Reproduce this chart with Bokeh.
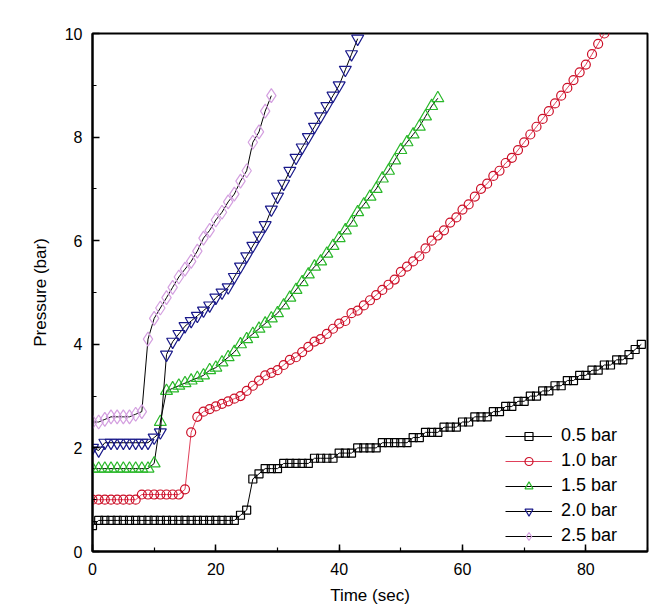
from bokeh.plotting import figure
from bokeh.models import SingleIntervalTicker, Range1d, Legend
from bokeh.embed import file_html
from bokeh.resources import INLINE

# ---- data (time in sec, pressure in bar) ----
t_05 = list(range(0, 90))
p_05 = ([0.5] + [0.6] * 23 + [0.7, 0.8, 1.4, 1.5] + [1.6] * 3 + [1.7] * 5 + [1.8] * 4 +
        [1.9] * 3 + [2.0] * 4 + [2.1] * 5 + [2.2] * 2 + [2.3] * 3 + [2.4] * 3 +
        [2.5] * 2 + [2.6] * 3 + [2.7] * 2 + [2.8] * 2 + [2.9] * 2 + [3.0] * 2 +
        [3.1] * 2 + [3.2] * 2 + [3.3] * 2 + [3.4] * 2 + [3.5] * 2 + [3.6] * 2 +
        [3.7] * 2 + [3.8] * 1 + [3.9, 4.0])

t_10 = list(range(0, 84))
p_10 = ([1.0] * 8 + [1.1] * 7 +
        [1.2, 2.3, 2.6, 2.7, 2.75, 2.8, 2.85, 2.9, 2.95, 3.0, 3.1, 3.2, 3.3, 3.4, 3.45,
         3.5, 3.6, 3.7, 3.75, 3.85, 3.95, 4.05, 4.1, 4.2, 4.3, 4.4, 4.45, 4.6, 4.65, 4.75,
         4.85, 4.95, 5.05, 5.15, 5.25, 5.4, 5.5, 5.6, 5.7, 5.85, 6.0, 6.1, 6.2, 6.35, 6.45,
         6.6, 6.7, 6.85, 7.0, 7.1, 7.25, 7.35, 7.5, 7.6, 7.75, 7.9, 8.05, 8.2, 8.35, 8.5,
         8.65, 8.8, 8.95, 9.1, 9.25, 9.4, 9.6, 9.8, 10.0])

t_15 = list(range(0, 57))
p_15 = ([1.6] * 10 +
        [1.7, 2.5, 3.1, 3.15, 3.2, 3.25, 3.3, 3.35, 3.4, 3.5, 3.55, 3.65, 3.75, 3.85, 4.0,
         4.1, 4.2, 4.3, 4.4, 4.5, 4.6, 4.75, 4.9, 5.05, 5.2, 5.35, 5.5, 5.6, 5.75, 5.9,
         6.05, 6.2, 6.35, 6.55, 6.7, 6.85, 7.0, 7.2, 7.35, 7.55, 7.75, 7.9, 8.05, 8.2,
         8.4, 8.6, 8.75])

t_20 = list(range(0, 44))
p_20 = ([2.0, 1.95] + [2.1] * 8 +
        [2.2, 2.3, 3.8, 4.05, 4.2, 4.35, 4.45, 4.55, 4.65, 4.75, 4.9, 5.0, 5.1, 5.3, 5.5,
         5.7, 5.9, 6.1, 6.3, 6.6, 6.85, 7.1, 7.35, 7.6, 7.8, 8.0, 8.2, 8.4, 8.6, 8.8,
         9.0, 9.3, 9.6, 9.9])

t_25 = list(range(0, 30))
p_25 = [2.5, 2.5, 2.55, 2.6, 2.6, 2.6, 2.6, 2.65, 2.7, 4.1, 4.5, 4.7, 4.9, 5.1, 5.3,
        5.45, 5.6, 5.8, 6.05, 6.2, 6.4, 6.55, 6.75, 6.9, 7.15, 7.35, 7.9, 8.1, 8.5, 8.8]

labels = ["0.5 bar", "1.0 bar", "1.5 bar", "2.0 bar", "2.5 bar"]
x_ticks_interval = 20
y_ticks_interval = 2

FONT = "Liberation Sans"

p = figure(width=651, height=607, output_backend="svg", toolbar_location=None,
           x_range=Range1d(0, 90), y_range=Range1d(0, 10),
           min_border_left=92, min_border_right=4, min_border_top=33, min_border_bottom=56)

p.xgrid.grid_line_color = None
p.ygrid.grid_line_color = None
p.outline_line_color = "black"
p.outline_line_width = 2
p.background_fill_color = "white"
p.border_fill_color = "white"

series = [
    (t_05, p_05, "square", "black", "black", 8),
    (t_10, p_10, "circle", "#cc1028", "#e0405a", 9),
    (t_15, p_15, "triangle", "#2ab82a", "black", 12),
    (t_20, p_20, "inverted_triangle", "#1a1a8a", "black", 12),
    (t_25, p_25, "diamond", "#d4a0e0", "black", 14),
]

items = []
for (xs, ys, mk, col, lcol, sz), lab in zip(series, labels):
    r1 = p.line(xs, ys, line_color=lcol, line_width=1)
    r2 = p.scatter(xs, ys, marker=mk, size=sz, line_color=col, fill_color=None, line_width=1.2)
    items.append((lab, [r1, r2]))

legend = Legend(items=items, location=(413, 5), orientation="vertical")
legend.background_fill_alpha = 0
legend.border_line_color = None
legend.padding = 0
legend.margin = 0
legend.spacing = 4
legend.glyph_width = 47
legend.glyph_height = 20
legend.label_height = 20
legend.label_standoff = 9
legend.label_text_font = FONT
legend.label_text_font_size = "18px"
legend.label_text_color = "black"
p.add_layout(legend, "center")

for ax in (p.xaxis[0], p.yaxis[0]):
    ax.axis_line_width = 2
    ax.axis_line_color = "black"
    ax.major_tick_in = 7
    ax.major_tick_out = 0
    ax.minor_tick_in = 4
    ax.minor_tick_out = 0
    ax.major_tick_line_width = 1.5
    ax.minor_tick_line_width = 1.2
    ax.major_label_text_font = FONT
    ax.major_label_text_font_size = "16px"
    ax.major_label_text_color = "black"
    ax.axis_label_text_font = FONT
    ax.axis_label_text_font_size = "17px"
    ax.axis_label_text_font_style = "normal"
    ax.axis_label_text_color = "black"

p.xaxis.ticker = SingleIntervalTicker(interval=x_ticks_interval, num_minor_ticks=2)
p.yaxis.ticker = SingleIntervalTicker(interval=y_ticks_interval, num_minor_ticks=2)
p.xaxis.axis_label = "Time (sec)"
p.yaxis.axis_label = "Pressure (bar)"
p.xaxis.major_label_standoff = 11
p.yaxis.major_label_standoff = 10
p.xaxis.axis_label_standoff = 8
p.yaxis.axis_label_standoff = 12

open("out.html", "w").write(file_html(p, INLINE))
